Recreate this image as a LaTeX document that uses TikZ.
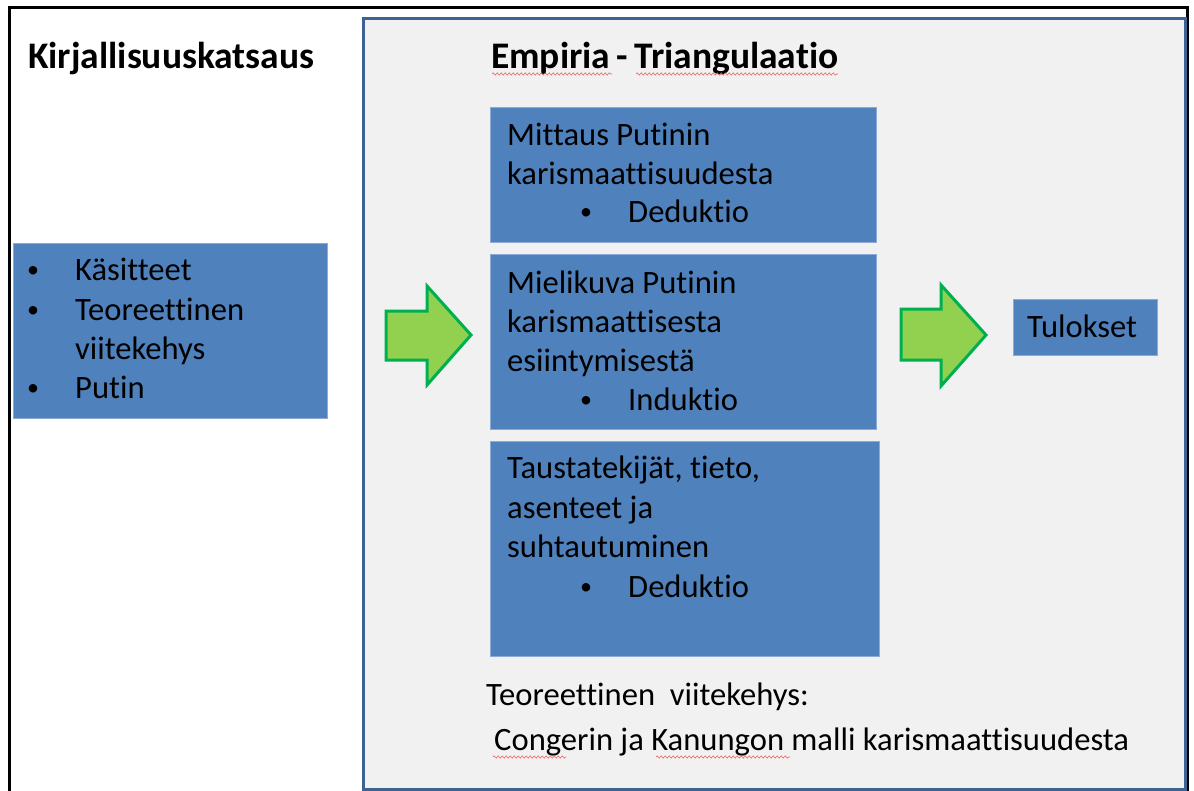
\documentclass[tikz,border=0pt]{standalone}
\usepackage{fontspec}
\setmainfont{Carlito}[Ligatures={NoCommon}]
\usetikzlibrary{decorations.pathmorphing}
\definecolor{boxblue}{HTML}{4F81BD}
\definecolor{boxedge}{HTML}{8DA9D6}
\definecolor{panelfill}{HTML}{F1F1F1}
\definecolor{paneledge}{HTML}{3E6294}
\definecolor{arrfill}{HTML}{92D050}
\definecolor{arredge}{HTML}{00B050}
\definecolor{wavy}{HTML}{F06060}
\tikzset{
  bluebox/.style={draw=boxedge,line width=0.8pt,fill=boxblue},
  txt/.style={anchor=base west,inner sep=0pt,font=\fontsize{32.6}{39}\selectfont},
  bul/.style={anchor=base,inner sep=0pt,font=\fontsize{24}{30}\selectfont},
  ttl/.style={anchor=base west,inner sep=0pt,font=\fontsize{37.5}{45}\selectfont\bfseries},
  blockarrow/.style={fill=arrfill,draw=arredge,line width=3pt,line join=miter},
  spell/.style={draw=wavy,line width=0.6pt,decorate,decoration={snake,amplitude=1.1pt,segment length=4pt}}
}
\newcommand{\blt}{\textbullet}
\begin{document}
\begin{tikzpicture}[x=1pt,y=-1pt]
\useasboundingbox (0,0) rectangle (1194,790);
\fill[white] (0,0) rectangle (1194,790);
% outer frame
\draw[line width=3pt] (9,792) -- (9,7) -- (1187,7) -- (1187,792);
% panel
\node[draw=paneledge,fill=panelfill,line width=3pt,inner sep=0pt,minimum width=822pt,minimum height=771pt,anchor=north west] (panel) at (362,17) {};
% titles
\node[ttl] (t1) at (28,68) {Kirjallisuuskatsaus};
\node[ttl] (t2) at (491,68) {Empiria\,-\,Triangulaatio};
% left box
\node[bluebox,inner sep=0pt,minimum width=314pt,minimum height=175pt,anchor=north west] (lbox) at (13,243) {};
\node[bul] (lb1) at (33,277) {\blt};
\node[txt] (l1) at (75,280) {Käsitteet};
\node[bul] (lb2) at (33,317) {\blt};
\node[txt] (l2) at (75,320) {Teoreettinen};
\node[txt] (l3) at (75,359) {viitekehys};
\node[bul] (lb3) at (33,395) {\blt};
\node[txt] (l4) at (75,398) {Putin};
% box 1
\node[bluebox,inner sep=0pt,minimum width=386pt,minimum height=135pt,anchor=north west] (b1) at (490,107) {};
\node[txt] (b1a) at (507,145) {Mittaus Putinin};
\node[txt] (b1b) at (507,184) {karismaattisuudesta};
\node[bul] (b1c) at (586,219) {\blt};
\node[txt] (b1d) at (628,222) {Deduktio};
% box 2
\node[bluebox,inner sep=0pt,minimum width=386pt,minimum height=175pt,anchor=north west] (b2) at (490,254) {};
\node[txt] (b2a) at (507,293) {Mielikuva Putinin};
\node[txt] (b2b) at (507,332) {karismaattisesta};
\node[txt] (b2c) at (507,371) {esiintymisestä};
\node[bul] (b2d) at (586,407) {\blt};
\node[txt] (b2e) at (628,410) {Induktio};
% box 3
\node[bluebox,inner sep=0pt,minimum width=389pt,minimum height=215pt,anchor=north west] (b3) at (490,441) {};
\node[txt] (b3a) at (507,478) {Taustatekijät, tieto,};
\node[txt] (b3b) at (507,518) {asenteet ja};
\node[txt] (b3c) at (507,557) {suhtautuminen};
\node[bul] (b3d) at (586,594) {\blt};
\node[txt] (b3e) at (628,597) {Deduktio};
% result box
\node[bluebox,inner sep=0pt,minimum width=144pt,minimum height=56pt,anchor=north west] (res) at (1013,299) {};
\node[txt] (rest) at (1027,337) {Tulokset};
% block arrows
\draw[blockarrow] (386,311) -- (427,311) -- (427,286) -- (471,335) -- (427,385) -- (427,360) -- (386,360) -- cycle;
\draw[blockarrow] (901,309) -- (941,309) -- (941,285) -- (986,335) -- (941,386) -- (941,360) -- (901,360) -- cycle;
% bottom text
\node[txt] (f1) at (486,705) {Teoreettinen\ \ viitekehys:};
\node[txt] (f2) at (494,750) {Congerin ja Kanungon malli karismaattisuudesta};
% spell-check underlines
\draw[spell] (492,74) -- (612,74);
\draw[spell] (636,74) -- (838,74);
\draw[spell] (493,757) -- (566,757);
\draw[spell] (656,757) -- (790,757);
\end{tikzpicture}
\end{document}
